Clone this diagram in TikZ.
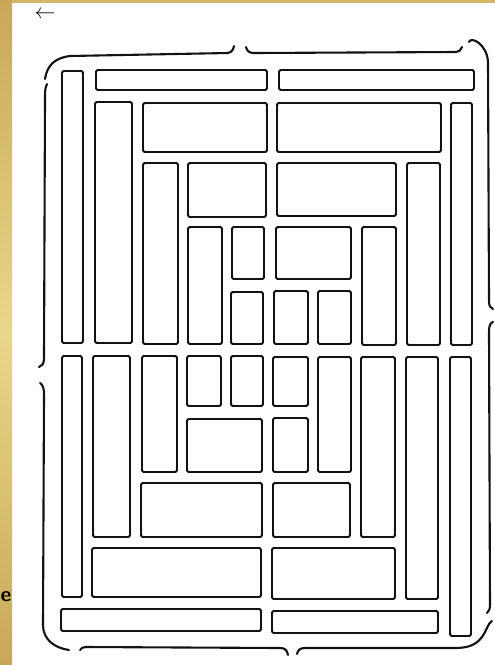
\documentclass[tikz,border=0pt]{standalone}
\usepackage{tikz}
\definecolor{goldlight}{RGB}{234,214,138}
\definecolor{golddark}{RGB}{200,168,88}
\definecolor{inkblack}{RGB}{18,18,18}

\begin{document}
\begin{tikzpicture}[
  x=1pt, y=-1pt,
  pane/.style={draw=inkblack, line width=1.8pt, rounded corners=1.5pt},
  rim/.style={draw=inkblack, line width=2.1pt, line cap=round}
]
\useasboundingbox (0,0) rectangle (495,665);

% Slide edge
\fill[white] (0,0) rectangle (495,665);
\shade[top color=golddark, bottom color=golddark, middle color=goldlight] (0,0) rectangle (12,665);
\fill[golddark!70!goldlight] (12,0) rectangle (495,3);
\node[font=\sffamily\bfseries\fontsize{21}{23}\selectfont, anchor=west, inner sep=0pt] (cut) at (0.5,597) {e};

% Back arrow
\node[font=\huge, inner sep=0pt, text height=8pt, text depth=2pt] (back) at (45,15) {$\leftarrow$};

% Ring 1 (outer)
\draw[pane] (96,70) rectangle (267,90);
\draw[pane] (279,70) rectangle (474,90);
\draw[pane] (62,71) rectangle (83,343);
\draw[pane] (62,356) rectangle (82,597);
\draw[pane] (451,103) rectangle (472,345);
\draw[pane] (450,357) rectangle (471,636);
\draw[pane] (61,609) rectangle (261,631);
\draw[pane] (272,611) rectangle (438,633);

% Ring 2
\draw[pane] (95,102) rectangle (132,343);
\draw[pane] (93,356) rectangle (130,537);
\draw[pane] (143,103) rectangle (267,152);
\draw[pane] (277,103) rectangle (441,152);
\draw[pane] (407,163) rectangle (440,345);
\draw[pane] (406,357) rectangle (438,599);
\draw[pane] (92,548) rectangle (261,597);
\draw[pane] (272,548) rectangle (395,599);

% Ring 3
\draw[pane] (143,163) rectangle (178,344);
\draw[pane] (142,356) rectangle (177,472);
\draw[pane] (188,163) rectangle (266,217);
\draw[pane] (277,163) rectangle (396,216);
\draw[pane] (362,227) rectangle (396,345);
\draw[pane] (361,357) rectangle (395,537);
\draw[pane] (141,483) rectangle (262,537);
\draw[pane] (273,483) rectangle (350,537);

% Ring 4
\draw[pane] (188,227) rectangle (222,344);
\draw[pane] (187,356) rectangle (221,406);
\draw[pane] (232,227) rectangle (264,279);
\draw[pane] (276,227) rectangle (351,279);
\draw[pane] (318,291) rectangle (351,344);
\draw[pane] (318,357) rectangle (351,472);
\draw[pane] (187,419) rectangle (262,472);
\draw[pane] (273,418) rectangle (308,472);

% Centre
\draw[pane] (231,292) rectangle (263,344);
\draw[pane] (274,291) rectangle (308,344);
\draw[pane] (231,356) rectangle (263,406);
\draw[pane] (273,357) rectangle (308,406);

% Braces round the frame
\draw[rim] (45,79) .. controls (47,66) and (54,58) .. (70,56) -- (228,53) .. controls (232,52) and (233,50) .. (234,46);
\draw[rim] (246,47) .. controls (247,51) and (249,53) .. (254,53) -- (456,52) .. controls (459,52) and (461,50) .. (462,47);
\draw[rim] (469,42) .. controls (471,36) and (487,44) .. (488,62) -- (489,300) .. controls (489,306) and (490,308) .. (493,309);
\draw[rim] (493,322) .. controls (490,323) and (489,326) .. (489,332) -- (490,605) .. controls (490,609) and (489,611) .. (487,613);
\draw[rim] (492,621) .. controls (488,623) and (487,630) .. (482,637) .. controls (476,645) and (468,648) .. (455,648) -- (305,648) .. controls (300,648) and (298,650) .. (297,654);
\draw[rim] (288,655) .. controls (287,650) and (285,648) .. (280,648) -- (86,647) .. controls (83,647) and (81,648) .. (80,650);
\draw[rim] (40,383) .. controls (43,385) and (44,388) .. (44,395) -- (43,625) .. controls (43,640) and (55,648) .. (69,650);
\draw[rim] (47,84) .. controls (45,88) and (45,92) .. (45,100) -- (44,358) .. controls (44,364) and (42,366) .. (39,367);

\end{tikzpicture}
\end{document}
